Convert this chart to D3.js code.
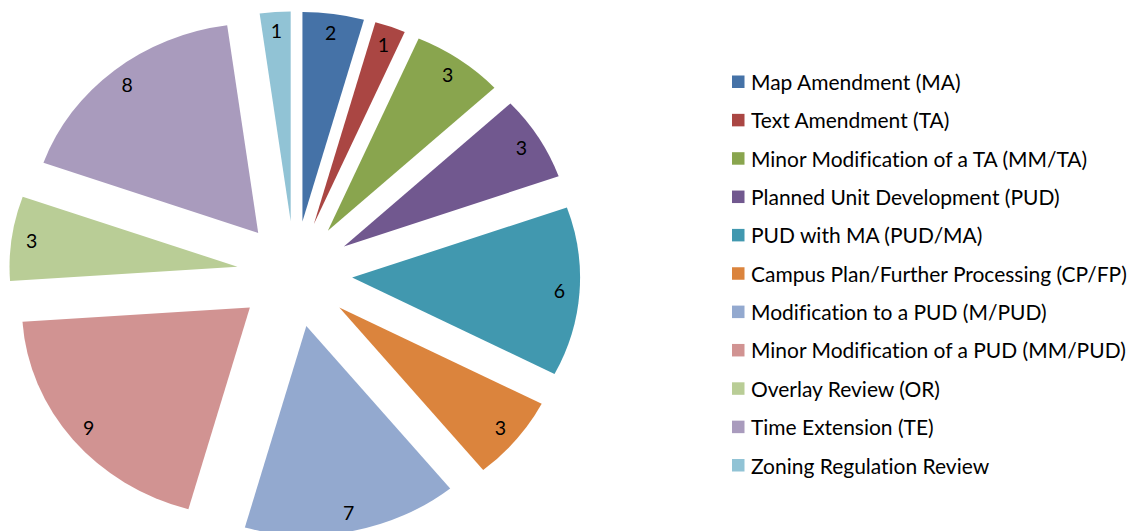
<!DOCTYPE html>
<html>
<head>
<meta charset="utf-8">
<script src="https://cdn.jsdelivr.net/npm/d3@7"></script>
<style>
  html, body { margin: 0; padding: 0; background: #fff; }
  svg { display: block; }
  text { font-variant-ligatures: none; font-feature-settings: "liga" 0; }
</style>
</head>
<body>
<svg id="chart" width="1137" height="531"></svg>
<script>
const categories = [
  "Map Amendment (MA)",
  "Text Amendment (TA)",
  "Minor Modification of a TA (MM/TA)",
  "Planned Unit Development (PUD)",
  "PUD with MA (PUD/MA)",
  "Campus Plan/Further Processing (CP/FP)",
  "Modification to a PUD (M/PUD)",
  "Minor Modification of a PUD (MM/PUD)",
  "Overlay Review (OR)",
  "Time Extension (TE)",
  "Zoning Regulation Review"
];
const values = [2, 1, 3, 3, 6, 3, 7, 9, 3, 8, 1];
const colors = ["#4572A7", "#AA4643", "#89A54E", "#71588F", "#4198AF", "#DB843D",
                "#93A9CF", "#D19392", "#B9CD96", "#A99BBD", "#91C3D5"];

const FONT = "Lato, 'Noto Sans', sans-serif";
const svg = d3.select("#chart");

// pie geometry
const cx = 294.6, cy = 274, sx = 1.088, R = 209.5, explode = 53, labelR = 191;

const data = categories.map((c, i) => ({ name: c, value: values[i] }));
const pie = d3.pie().sort(null).value(d => d.value).startAngle(0).endAngle(2 * Math.PI);
const arcs = pie(data);
const arc = d3.arc().innerRadius(0).outerRadius(R);

const color = d3.scaleOrdinal().domain(categories).range(colors);

const pieG = svg.append("g").attr("transform", `translate(${cx},${cy}) scale(${sx},1)`);
pieG.selectAll("path")
  .data(arcs)
  .join("path")
  .attr("d", arc)
  .attr("fill", d => color(d.data.name))
  .attr("transform", d => {
    const m = (d.startAngle + d.endAngle) / 2;
    return `translate(${explode * Math.sin(m)},${-explode * Math.cos(m)})`;
  });

svg.append("g").selectAll("text")
  .data(arcs)
  .join("text")
  .attr("x", d => { const m = (d.startAngle + d.endAngle) / 2; return cx + sx * (explode + labelR) * Math.sin(m); })
  .attr("y", d => { const m = (d.startAngle + d.endAngle) / 2; return cy - (explode + labelR) * Math.cos(m); })
  .attr("text-anchor", "middle")
  .attr("dominant-baseline", "central")
  .attr("font-family", FONT)
  .attr("font-size", 19.5)
  .attr("fill", "#000")
  .text(d => d.data.value);

// legend
const legend = svg.append("g");
const rowY = d3.scaleLinear().domain([0, categories.length - 1]).range([81.5, 465]);
const items = legend.selectAll("g")
  .data(categories)
  .join("g")
  .attr("transform", (d, i) => `translate(0,${rowY(i)})`);
items.append("rect")
  .attr("x", 732).attr("y", -6).attr("width", 12.5).attr("height", 12.5)
  .attr("fill", d => color(d));
const texts = items.append("text")
  .attr("x", 751)
  .attr("y", 0)
  .attr("dominant-baseline", "central")
  .attr("font-family", FONT)
  .attr("font-size", 20)
  .attr("fill", "#000")
  .text(d => d);
// fit the font size so the longest entry spans the same width as the reference
let maxW = 0;
texts.each(function () { maxW = Math.max(maxW, this.getComputedTextLength()); });
const fs = 20 * 376 / maxW;
texts.attr("font-size", fs);
</script>
</body>
</html>
